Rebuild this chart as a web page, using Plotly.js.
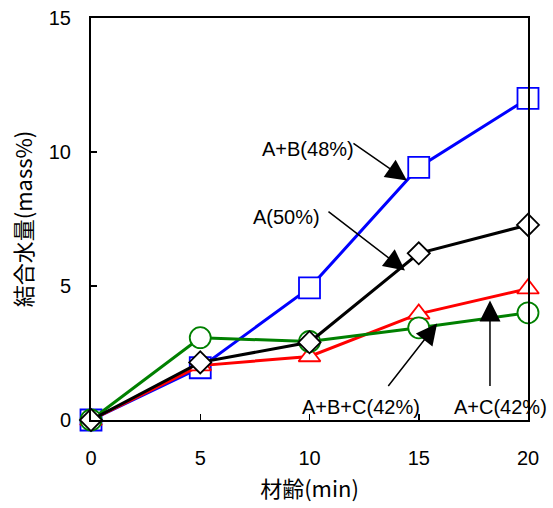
<!DOCTYPE html>
<html><head><meta charset="utf-8">
<script src="https://cdn.plot.ly/plotly-3.0.1.min.js"></script>
<style>html,body{margin:0;padding:0;background:#fff}#chart{width:553px;height:508px}</style>
</head><body><div id="chart"></div>
<script>
// ---- data ----
const ages = [0, 5, 10, 15, 20];
const abValues = [0, 1.95, 4.93, 9.43, 12.0];
const aValues = [0, 2.15, 2.9, 6.22, 7.28];
const acValues = [0, 2.03, 2.37, 3.96, 4.9];
const abcValues = [0, 3.07, 2.93, 3.44, 4.0];
const seriesNames = ['A+B(48%)', 'A(50%)', 'A+C(42%)', 'A+B+C(42%)'];
const xTickVals = [0, 5, 10, 15, 20];
const yTickVals = [0, 5, 10, 15];
const xTitle = '材齢(min)';
const yTitle = '結合水量(mass%)';

const latin = 'Liberation Sans, Arial, sans-serif';
const cjk = 'Noto Sans CJK JP, sans-serif';

function trace(y, name, color, symbol, size) {
  return {
    x: ages, y: y, name: name, type: 'scatter', mode: 'lines+markers',
    cliponaxis: false,
    line: {color: color, width: 3},
    marker: {symbol: symbol, size: size, color: '#fff', line: {color: color, width: 1.8}}
  };
}

const data = [
  trace(abValues, seriesNames[0], '#0000ff', 'square', 21),
  trace(acValues, seriesNames[2], '#ff0000', 'triangle-up', 19),
  trace(abcValues, seriesNames[3], '#008000', 'circle', 21),
  trace(aValues, seriesNames[1], '#000000', 'diamond', 17)
];

function arrow(x, y, ax, ay) {
  return {x: x, y: y, xref: 'x', yref: 'y', ax: ax, ay: ay, text: '',
    showarrow: true, arrowhead: 2, arrowsize: 2.8, arrowwidth: 1.5, arrowcolor: '#000',
    standoff: 0, startstandoff: 0};
}
function label(x, y, text) {
  return {x: x, y: y, xref: 'x', yref: 'y', text: text, showarrow: false,
    font: {family: latin, size: 20, color: '#000'}, xanchor: 'center', yanchor: 'middle'};
}

const annotations = [
  arrow(14.46, 8.94, -55, -38),
  arrow(14.37, 5.58, -78, -60),
  arrow(15.84, 3.60, -50, 64),
  arrow(18.26, 4.46, 0, 87),
  label(9.93, 10.13, seriesNames[0]),
  label(8.95, 7.56, seriesNames[1]),
  label(12.36, 0.47, seriesNames[3]),
  label(18.72, 0.47, seriesNames[2])
];

const axisCommon = {
  showgrid: false, zeroline: false, showline: true, linecolor: '#000', linewidth: 2,
  mirror: true, ticks: 'inside', ticklen: 6, tickwidth: 1.5, tickcolor: '#000',
  tickfont: {family: latin, size: 20, color: '#000'}
};

const layout = {
  width: 553, height: 508,
  margin: {l: 91, r: 25, t: 18, b: 88},
  paper_bgcolor: '#fff', plot_bgcolor: '#fff',
  showlegend: false,
  xaxis: Object.assign({}, axisCommon, {
    range: [0, 20], tickvals: xTickVals, ticklabelstandoff: 19,
    title: {text: xTitle, font: {family: cjk, size: 22, color: '#000'}, standoff: 14}
  }),
  yaxis: Object.assign({}, axisCommon, {
    range: [0, 15], tickvals: yTickVals, ticklabelstandoff: 14,
    title: {text: yTitle, font: {family: cjk, size: 22, color: '#000'}, standoff: 10}
  }),
  annotations: annotations
};

Plotly.newPlot('chart', data, layout, {displayModeBar: false, staticPlot: true});
</script>
</body></html>
